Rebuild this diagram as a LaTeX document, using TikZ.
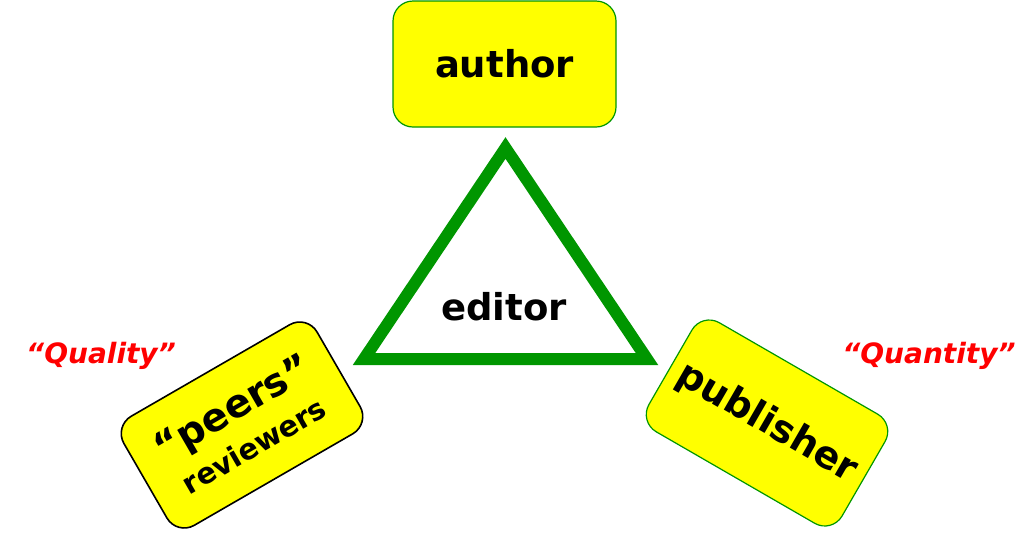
\documentclass[tikz,border=0pt]{standalone}
\usepackage{fontspec}
\setmainfont{DejaVu Sans}
\definecolor{BoxYellow}{RGB}{255,255,0}
\definecolor{EdgeGreen}{RGB}{0,150,0}
\definecolor{QuoteRed}{RGB}{255,0,0}
\usetikzlibrary{positioning}

\begin{document}
\begin{tikzpicture}[x=1pt,y=-1pt,
        rolebox/.style={rectangle,rounded corners=20pt,fill=BoxYellow,draw=EdgeGreen,line width=1.2pt,
            minimum width=223pt,minimum height=126pt,inner sep=0pt,align=center,font=\bfseries},
        claim/.style={text=QuoteRed,font=\fontsize{28}{30}\selectfont\bfseries\itshape}]
        % canvas
        \useasboundingbox (0,0) rectangle (1030,539);
        % the three parties
        \node[rolebox] at (504.5,64) (author) {\fontsize{37}{40}\selectfont author};
        \node[rolebox,draw=black,line width=1.6pt,rotate=30] at (242,425) (peers)
            {{\fontsize{39}{40}\selectfont “peers”}\\[10pt]{\fontsize{29}{32}\selectfont reviewers}};
        \node[rolebox,rotate=-30] at (767,423) (publisher) {\fontsize{38}{40}\selectfont publisher};
        % editor in the middle
        \coordinate (apex) at (505.5,148);
        \coordinate (left) at (364,359);
        \coordinate (right) at (647,359);
        \draw[EdgeGreen,line width=12pt,line join=miter] (apex) -- (left) -- (right) -- cycle;
        \node[font=\fontsize{37}{40}\selectfont\bfseries] at (504,307) (editor) {editor};
        % labels
        \node[claim] at (101,356) (quality) {“Quality”};
        \node[claim] at (929,356) (quantity) {“Quantity”};
    \end{tikzpicture}
\end{document}
